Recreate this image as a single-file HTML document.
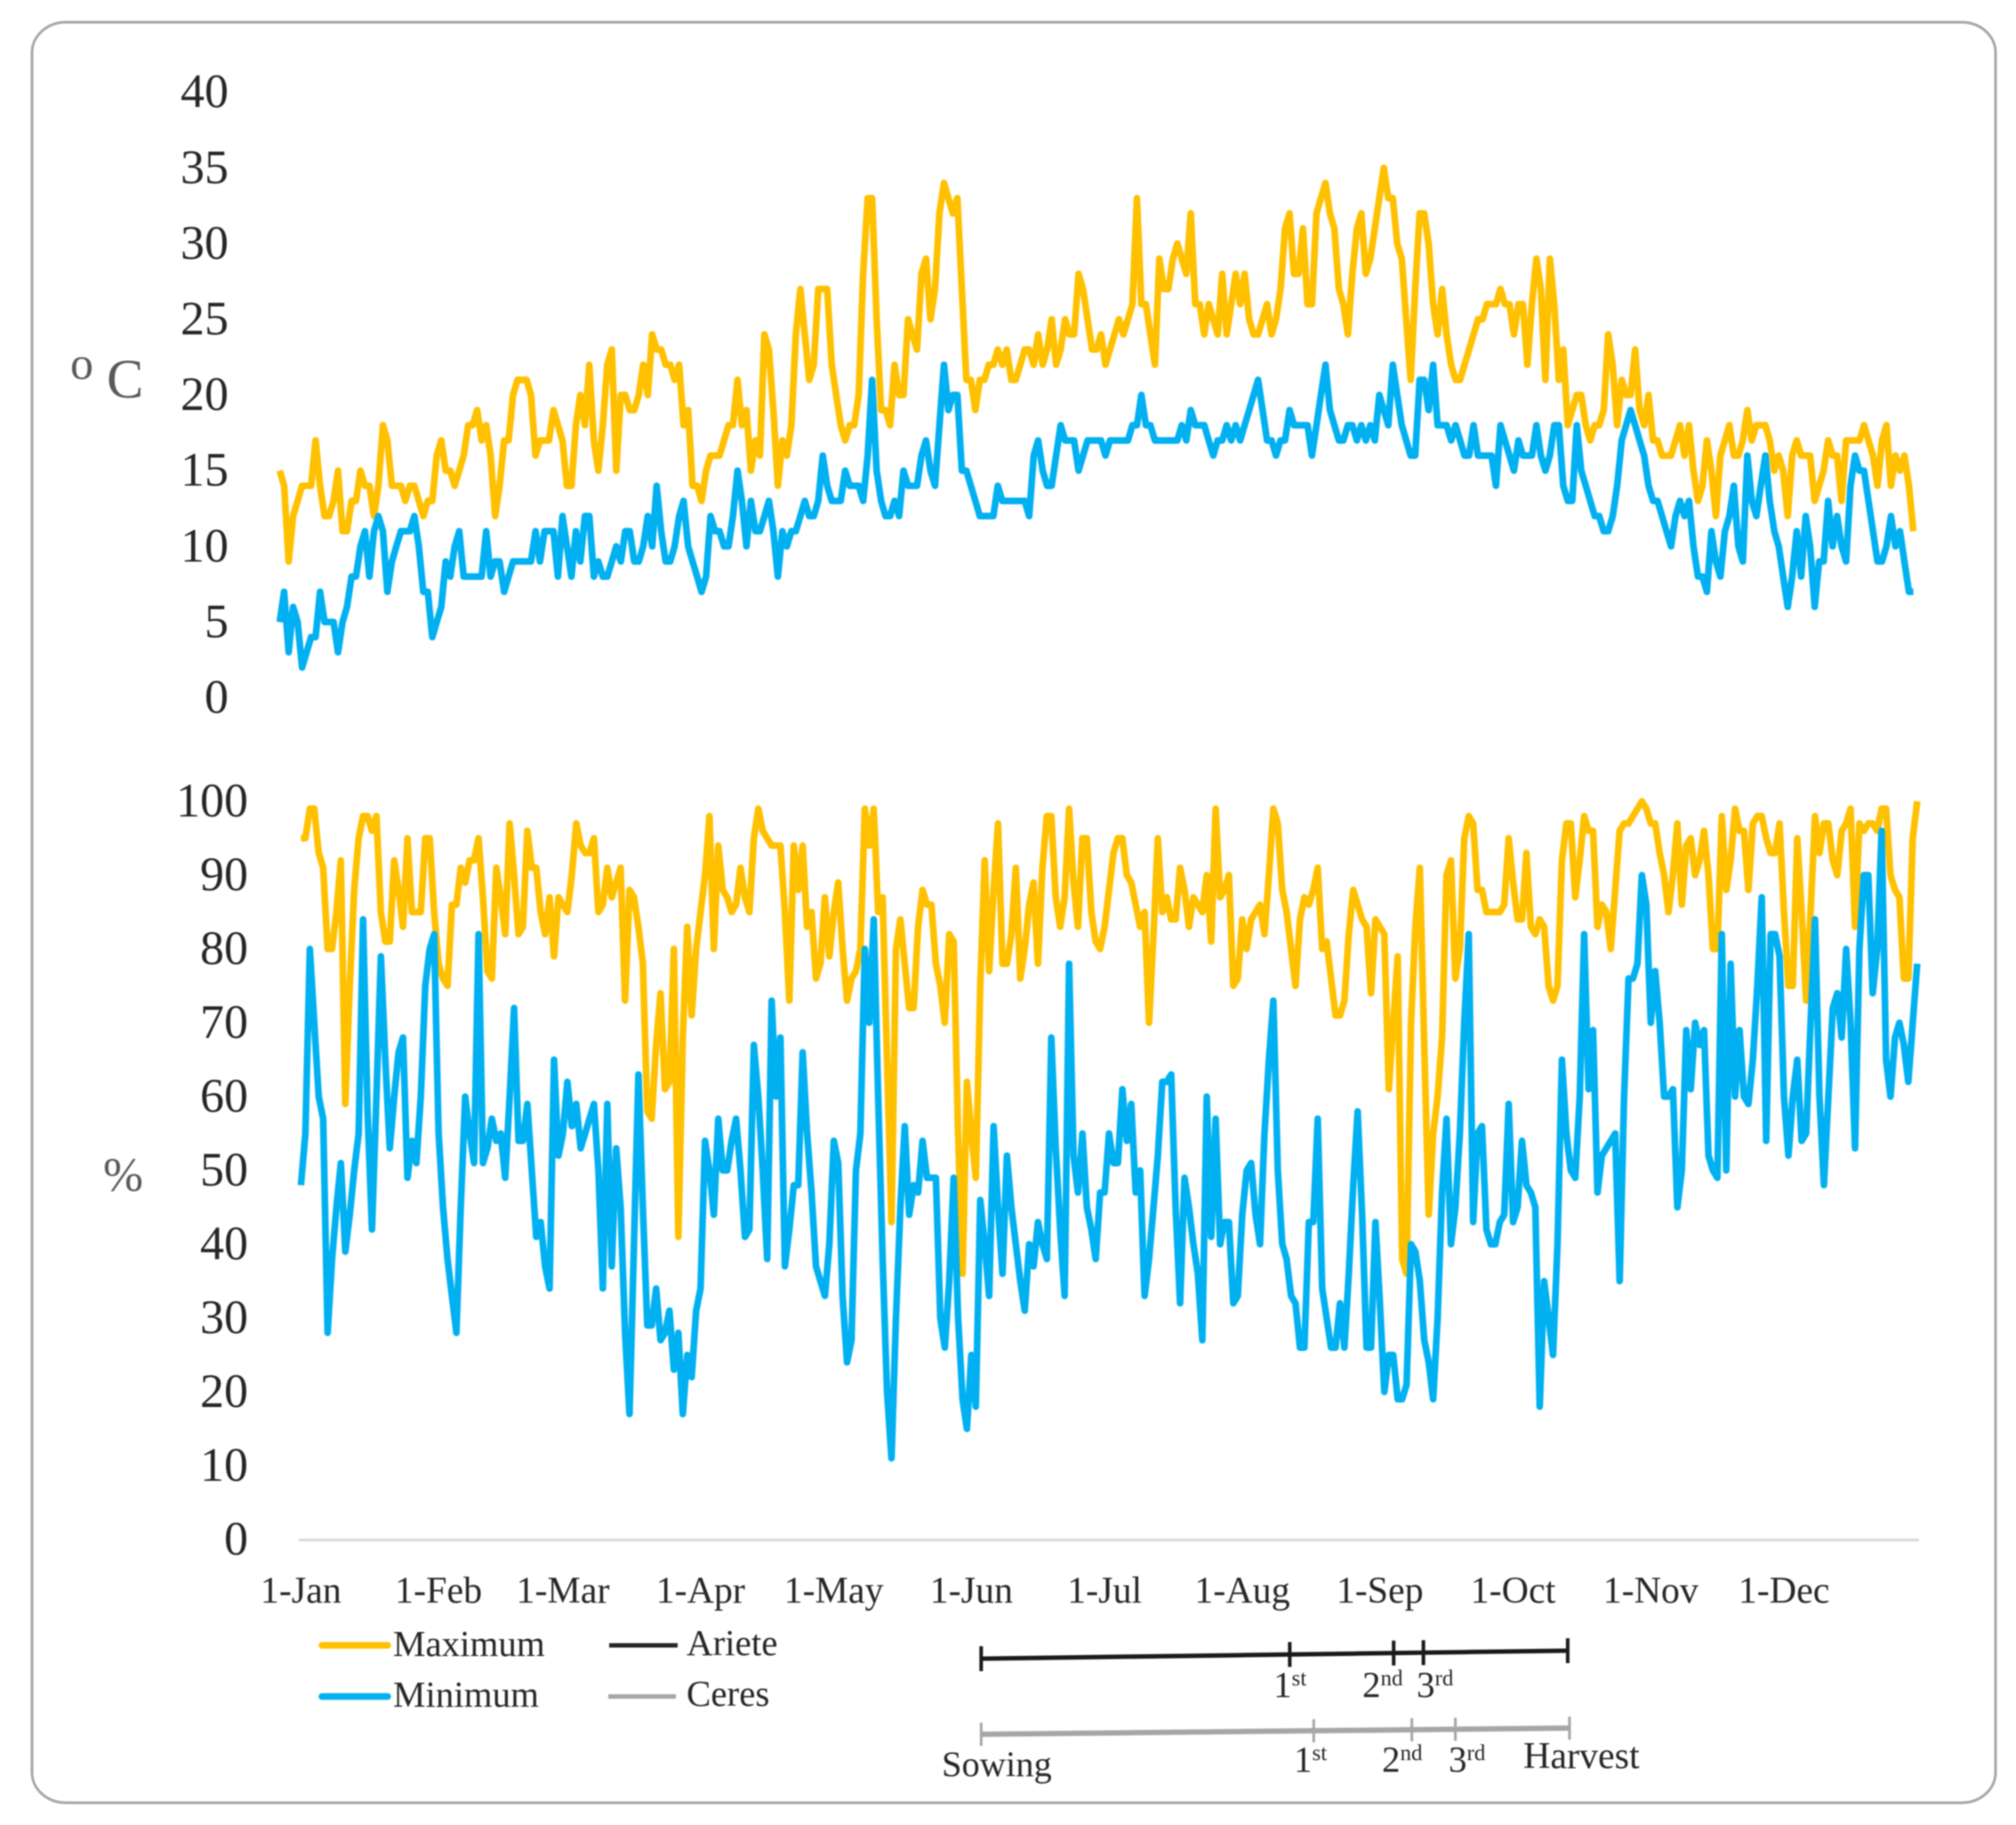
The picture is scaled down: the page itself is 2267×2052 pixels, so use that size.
<!DOCTYPE html>
<html lang="en">
<head>
<meta charset="utf-8">
<title>Temperature and relative humidity chart</title>
<style>
html,body{margin:0;padding:0;background:#fff;width:2267px;height:2052px;overflow:hidden}
svg{display:block;filter:blur(.7px)}
text{font-family:"Liberation Serif",serif;fill:#262626}
</style>
</head>
<body>
<svg id="chart" xmlns="http://www.w3.org/2000/svg" width="2267" height="2052" viewBox="0 0 2267 2052">
  <rect x="36" y="25" width="2208" height="2002" rx="38" ry="34" fill="#fff" stroke="#a6a6a6" stroke-width="3"/>
  <text x="79" y="426" font-size="52" style="fill:#595959">o</text>
  <text x="120" y="447" font-size="62" style="fill:#595959">C</text>
  <text x="116" y="1339" font-size="54" style="fill:#595959">%</text>
  <line x1="335.5" y1="1731.5" x2="2158" y2="1731.5" stroke="#d9d9d9" stroke-width="3"/>
  <g id="temp-ticks"></g>
  <g id="hum-ticks"></g>
  <g id="month-ticks"></g>
  <g id="series"></g>

  <line x1="362" y1="1850" x2="436" y2="1850" stroke="#FFC000" stroke-width="7.5" stroke-linecap="round"/>
  <text x="442" y="1862" font-size="41">Maximum</text>
  <line x1="362" y1="1907.5" x2="436" y2="1907.5" stroke="#00B0F0" stroke-width="7.5" stroke-linecap="round"/>
  <text x="442" y="1919" font-size="41">Minimum</text>
  <line x1="685" y1="1850" x2="762" y2="1850" stroke="#262626" stroke-width="5"/>
  <text x="772" y="1861" font-size="41">Ariete</text>
  <line x1="684" y1="1907.5" x2="760" y2="1907.5" stroke="#a6a6a6" stroke-width="5"/>
  <text x="772" y="1918" font-size="41">Ceres</text>

  <g id="timelines"></g>

  <text x="1432" y="1908" font-size="41">1<tspan font-size="25" dy="-13">st</tspan></text>
  <text x="1532" y="1908" font-size="41">2<tspan font-size="25" dy="-13">nd</tspan></text>
  <text x="1593" y="1908" font-size="41">3<tspan font-size="25" dy="-13">rd</tspan></text>
  <text x="1455" y="1992" font-size="41">1<tspan font-size="25" dy="-13">st</tspan></text>
  <text x="1554" y="1992" font-size="41">2<tspan font-size="25" dy="-13">nd</tspan></text>
  <text x="1629" y="1992" font-size="41">3<tspan font-size="25" dy="-13">rd</tspan></text>
  <text x="1059" y="1997" font-size="40.5">Sowing</text>
  <text x="1713" y="1988" font-size="42">Harvest</text>
</svg>
<script>
const tempTicks = [0,5,10,15,20,25,30,35,40];
const humTicks = [0,10,20,30,40,50,60,70,80,90,100];
const monthLabels = ["1-Jan","1-Feb","1-Mar","1-Apr","1-May","1-Jun","1-Jul","1-Aug","1-Sep","1-Oct","1-Nov","1-Dec"];
const monthDays = [0,31,59,90,120,151,181,212,243,273,304,334];
const arieteStages = [153.2,222.7,246.1,252.8,285.3];
const ceresStages = [153.2,228.1,250.2,260,285.7];

const tempMax = [
15,14,9,12,13,14,14,14,17,14,
12,12,13,15,11,11,13,13,15,14,
14,12,14,18,17,14,14,14,13,14,
14,13,12,13,13,16,17,15,15,14,
15,16,18,18,19,17,18,16,12,14,
17,17,20,21,21,21,20,16,17,17,
17,19,18,17,14,14,18,20,18,22,
17,15,18,22,23,15,20,20,19,19,
20,22,20,24,23,23,22,22,21,22,
18,19,14,14,13,15,16,16,16,17,
18,18,21,18,19,15,17,16,24,23,
19,14,17,16,18,24,27,24,21,22,
27,27,27,22,20,18,17,18,18,20,
28,33,33,25,19,19,18,22,20,20,
25,24,23,28,29,25,27,32,34,33,
32,33,27,21,21,19,21,21,22,22,
23,22,23,21,21,22,23,23,22,24,
22,23,25,22,23,25,24,24,28,27,
25,23,23,24,22,23,24,25,24,25,
26,33,26,26,24,22,29,27,27,29,
30,29,28,32,26,26,24,26,25,24,
28,24,26,28,26,28,25,24,24,25,
26,24,25,27,31,32,28,28,31,26,
26,32,33,34,32,31,27,26,24,28,
31,32,28,29,31,33,35,33,33,30,
29,25,21,27,32,32,30,26,24,27,
24,22,21,21,22,23,24,25,25,26,
26,26,27,26,26,24,26,26,22,26,
29,27,21,29,26,21,23,18,19,20,
20,18,17,18,18,19,24,22,18,21,
20,20,23,19,18,20,17,17,16,16,
16,17,18,16,18,15,13,14,17,15,
12,16,17,18,16,16,17,19,17,18,
18,18,17,15,16,15,12,16,17,16,
16,16,13,14,15,17,16,16,13,17,
17,17,17,18,17,16,14,17,18,14,
16,15,16,14,11
];
const tempMin = [
5,7,3,6,5,2,3,4,4,7,
5,5,5,3,5,6,8,8,10,11,
8,11,12,11,7,9,10,11,11,11,
12,10,7,7,4,5,6,9,8,10,
11,8,8,8,8,8,11,8,9,9,
7,8,9,9,9,9,9,11,9,11,
11,11,8,12,10,8,11,9,12,12,
8,9,8,8,9,10,9,11,11,9,
9,10,12,10,14,11,9,9,10,12,
13,10,9,8,7,8,12,11,11,10,
10,12,15,13,10,13,11,11,12,13,
11,8,11,10,11,11,12,13,12,12,
13,16,14,13,13,13,15,14,14,14,
13,16,21,15,13,12,12,13,12,15,
14,14,14,16,17,15,14,18,22,19,
20,20,15,15,14,13,12,12,12,12,
14,13,13,13,13,13,13,12,16,17,
15,14,14,16,18,17,17,17,15,16,
17,17,17,17,16,17,17,17,17,17,
18,18,20,18,18,17,17,17,17,17,
17,18,17,19,18,18,18,17,16,17,
17,18,17,18,17,18,19,20,21,19,
17,17,16,17,17,19,18,18,18,18,
16,18,20,22,19,18,17,17,18,18,
17,18,17,18,17,20,19,18,22,20,
18,17,16,16,21,21,19,22,18,18,
18,17,18,17,16,16,18,16,16,16,
16,14,18,17,16,15,17,16,16,16,
18,16,15,16,18,18,14,13,13,18,
15,14,13,12,12,11,11,12,14,17,
18,19,18,17,16,14,13,13,12,11,
10,12,13,12,13,10,8,8,7,11,
9,8,11,12,14,10,9,16,13,12,
14,16,13,11,10,8,6,8,11,8,
12,10,6,9,9,13,10,12,10,9,
14,16,15,15,13,11,9,9,10,12,
10,11,9,7,7
];
const humMax = [
95,95,99,99,93,91,80,80,85,92,
59,75,88,95,98,98,96,98,85,81,
81,92,88,83,95,85,85,85,95,95,
85,78,76,75,86,86,91,89,92,92,
95,87,77,76,91,87,82,97,90,82,
83,96,91,91,85,82,87,79,87,86,
85,90,97,94,93,93,95,85,86,91,
87,89,91,73,88,87,83,78,58,57,
67,74,61,62,80,41,68,83,71,80,
85,90,98,80,94,88,87,85,86,91,
87,85,95,99,96,95,94,94,94,85,
73,94,88,94,83,85,76,78,87,79,
85,89,80,73,76,77,80,99,94,99,
85,87,65,43,80,84,78,72,72,83,
88,86,86,78,75,70,82,81,55,36,
62,55,49,75,92,77,88,97,78,78,
82,91,76,80,86,89,78,91,98,98,
87,83,87,99,89,83,95,95,85,81,
80,83,88,93,95,95,90,89,86,83,
85,70,82,95,85,87,84,84,91,88,
83,87,86,85,90,81,99,87,88,90,
75,76,84,80,84,85,86,82,90,99,
97,88,85,80,75,84,87,86,88,91,
80,81,76,71,71,73,82,88,86,84,
83,74,84,83,82,61,70,79,38,36,
70,83,91,67,44,55,60,68,90,92,
76,80,95,98,97,88,88,85,85,85,
85,86,95,89,84,84,93,83,82,84,
83,75,73,75,92,97,97,87,92,98,
96,96,83,86,85,80,88,96,97,97,
98,99,100,99,97,97,93,90,85,90,
97,86,94,95,90,92,96,90,80,80,
98,88,92,99,96,96,88,97,98,98,
95,93,93,97,85,75,75,95,85,73,
85,98,93,97,97,92,90,96,97,99,
83,97,96,97,97,96,99,99,90,88,
87,76,76,95,100
];
const humMin = [
48,55,80,70,60,57,28,38,45,51,
39,44,50,55,84,58,42,60,79,65,
53,60,66,68,49,54,51,60,75,80,
82,55,45,38,33,28,45,60,55,51,
82,51,53,57,54,55,49,60,72,54,
54,59,50,41,43,37,34,65,52,55,
62,56,59,53,55,57,59,50,34,59,
37,53,45,28,17,40,63,45,29,29,
34,27,28,31,23,28,17,25,22,31,
34,54,50,44,57,50,50,54,57,50,
41,42,67,60,50,38,73,60,68,37,
42,48,48,66,55,47,37,35,33,40,
54,51,33,24,27,50,55,80,70,84,
60,38,20,11,30,45,56,44,48,47,
54,49,49,49,30,26,35,49,30,19,
15,25,18,46,40,33,56,45,36,52,
45,40,35,31,40,37,43,40,38,68,
53,42,33,78,52,47,55,45,42,38,
47,47,55,51,51,61,54,59,47,50,
33,38,45,52,62,62,63,45,32,49,
45,40,36,27,60,41,57,40,43,43,
32,33,44,50,51,44,40,55,65,73,
50,40,38,33,32,26,26,43,43,57,
34,30,26,26,32,26,36,48,58,44,
26,26,43,32,20,25,25,19,19,21,
40,39,35,27,24,19,30,47,57,40,
45,55,70,82,43,55,56,42,40,40,
43,44,59,43,45,54,48,47,45,18,
35,30,25,40,65,55,50,49,60,82,
61,69,47,52,53,54,55,35,60,76,
76,78,90,86,70,77,70,60,60,61,
45,50,69,61,70,67,69,52,50,49,
82,50,78,60,69,60,59,65,75,87,
54,82,82,79,60,52,60,65,54,55,
70,84,60,48,60,72,74,68,80,70,
53,80,90,90,74,80,96,65,60,68,
70,67,62,70,78
];

const NS = "http://www.w3.org/2000/svg";
const xTemp = d => 314.5 + d * 5.047;
const yTemp = v => 784.5 - v * 17.02;
const xHum = d => 338.4 + d * 4.993;
const yHum = v => 1731 - v * 8.3;

function make(tag, attrs, parent) {
  const el = document.createElementNS(NS, tag);
  for (const k in attrs) el.setAttribute(k, attrs[k]);
  parent.appendChild(el);
  return el;
}

const tempTickGroup = document.getElementById("temp-ticks");
tempTicks.forEach(v => {
  const t = make("text", {x: 257, y: yTemp(v) + 17, "text-anchor": "end", "font-size": 54}, tempTickGroup);
  
  
  t.textContent = v;
});

const humTickGroup = document.getElementById("hum-ticks");
humTicks.forEach(v => {
  const t = make("text", {x: 279, y: yHum(v) + 17, "text-anchor": "end", "font-size": 54}, humTickGroup);
  
  
  t.textContent = v;
});

const monthGroup = document.getElementById("month-ticks");
monthLabels.forEach((label, i) => {
  const t = make("text", {x: xHum(monthDays[i]), y: 1802, "text-anchor": "middle", "font-size": 42}, monthGroup);
  
  
  t.textContent = label;
});

const seriesGroup = document.getElementById("series");
function drawLine(values, xFn, yFn, color) {
  const pts = values.map((v, i) => xFn(i).toFixed(1) + "," + yFn(v).toFixed(1)).join(" ");
  return make("polyline", {points: pts, fill: "none", stroke: color, "stroke-width": 7.5, "stroke-linejoin": "round", "stroke-linecap": "butt"}, seriesGroup);
}
const lineTempMax = drawLine(tempMax, xTemp, yTemp, "#FFC000");


const lineTempMin = drawLine(tempMin, xTemp, yTemp, "#00B0F0");


const lineHumMax = drawLine(humMax, xHum, yHum, "#FFC000");


const lineHumMin = drawLine(humMin, xHum, yHum, "#00B0F0");



const timelineGroup = document.getElementById("timelines");
function drawTimeline(stages, yStart, yEnd, color, lineW, tickW, upper, lower) {
  const first = stages[0], last = stages[stages.length - 1];
  const laneY = d => yStart + (yEnd - yStart) * (d - first) / (last - first);
  const bar = make("line", {x1: xHum(first), y1: laneY(first), x2: xHum(last), y2: laneY(last), stroke: color, "stroke-width": lineW}, timelineGroup);
  stages.forEach(d => {
    const tick = make("line", {x1: xHum(d), y1: laneY(d) - upper, x2: xHum(d), y2: laneY(d) + lower, stroke: color, "stroke-width": tickW}, timelineGroup);
    
    
  });
  return bar;
}
const arieteBar = drawTimeline(arieteStages, 1865, 1856, "#1a1a1a", 5, 4, 14, 14);


const ceresBar = drawTimeline(ceresStages, 1950, 1943, "#a6a6a6", 6, 3, 13, 13);


</script>
</body>
</html>
